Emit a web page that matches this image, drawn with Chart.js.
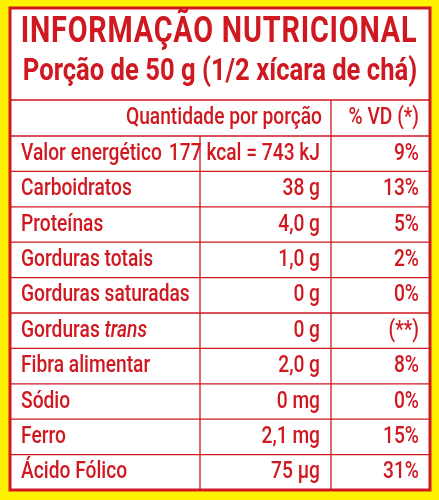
<!DOCTYPE html>
<html><head><meta charset="utf-8">
<script src="https://cdn.jsdelivr.net/npm/chart.js@4"></script>
<style>
html,body{margin:0;padding:0;background:#fff200;}
#wrap{width:439px;height:500px;}
</style></head>
<body><div id="wrap"><canvas id="tabela"></canvas></div>
<script>
const nutrientes = ['Valor energético','Carboidratos','Proteínas','Gorduras totais','Gorduras saturadas','Gorduras trans','Fibra alimentar','Sódio','Ferro','Ácido Fólico'];
const quantidades = ['177 kcal = 743 kJ','38 g','4,0 g','1,0 g','0 g','0 g','2,0 g','0 mg','2,1 mg','75 µg'];
const vd = ['9%','13%','5%','2%','0%','(**)','8%','0%','15%','31%'];
const titulo = 'INFORMAÇÃO NUTRICIONAL';
const subtitulo = 'Porção de 50 g (1/2 xícara de chá)';

const RED = '#cf1820';
const FONT = 'Roboto, "DejaVu Sans", sans-serif';
const SX = 0.8; // condensed look

// draw text squeezed horizontally, returns drawn width
function texto(ctx, s, x, y, align, font) {
  ctx.save();
  ctx.font = font;
  ctx.textAlign = align;
  ctx.translate(x, y);
  ctx.scale(SX, 1);
  ctx.fillText(s, 0, 0);
  const w = ctx.measureText(s).width * SX;
  ctx.restore();
  return w;
}

const tablePlugin = {
  id: 'tabela',
  afterDraw(chart) {
    const ctx = chart.ctx;
    const y = chart.scales.y;
    const a = chart.chartArea;
    const L = 10, R = 430, top = 100, c1 = 200, c2 = 331;
    ctx.save();
    ctx.fillStyle = '#fff';
    ctx.fillRect(L, 8, R - L, a.bottom - 8);
    ctx.strokeStyle = RED;
    ctx.lineWidth = 3;
    ctx.strokeRect(L, 8, R - L, a.bottom - 8);
    ctx.fillStyle = RED;
    ctx.textBaseline = 'middle';
    ctx.letterSpacing = '1px';
    texto(ctx, titulo, 219, 33, 'center', 'bold 36px ' + FONT);
    ctx.letterSpacing = '0px';
    texto(ctx, subtitulo, 220, 72, 'center', 'bold 32px ' + FONT);
    // grid
    ctx.lineWidth = 1.3;
    ctx.beginPath();
    ctx.moveTo(L, top); ctx.lineTo(R, top);
    ctx.moveTo(c2, top); ctx.lineTo(c2, a.bottom);
    ctx.moveTo(c1, a.top); ctx.lineTo(c1, a.bottom);
    const step = (a.bottom - a.top) / nutrientes.length;
    for (let i = 0; i < nutrientes.length; i++) {
      const yy = a.top + i * step;
      ctx.moveTo(L, yy); ctx.lineTo(R, yy);
    }
    ctx.stroke();
    const f = '500 24px ' + FONT;
    texto(ctx, 'Quantidade por porção', 322, (top + a.top) / 2, 'right', f);
    texto(ctx, '% VD (*)', 419, (top + a.top) / 2, 'right', f);
    nutrientes.forEach((n, i) => {
      const py = y.getPixelForValue(i);
      if (n.endsWith(' trans')) {
        const base = n.slice(0, -5);
        const w = texto(ctx, base, 21, py, 'left', f);
        texto(ctx, 'trans', 21 + w, py, 'left', 'italic 500 24px ' + FONT);
      } else {
        texto(ctx, n, 21, py, 'left', f);
      }
      texto(ctx, quantidades[i], 320, py, 'right', f);
      texto(ctx, vd[i], 419, py, 'right', f);
    });
    ctx.restore();
  }
};

new Chart(document.getElementById('tabela').getContext('2d'), {
  type: 'bar',
  data: {
    labels: nutrientes,
    datasets: [{ label: 'Quantidade', data: nutrientes.map(() => 0), backgroundColor: 'rgba(0,0,0,0)' }]
  },
  options: {
    indexAxis: 'y',
    responsive: true,
    maintainAspectRatio: false,
    animation: false,
    layout: { padding: { top: 136, bottom: 10, left: 10, right: 9 } },
    plugins: { legend: { display: false }, tooltip: { enabled: false } },
    scales: {
      y: { display: false, offset: true },
      x: { display: false, min: 0, max: 1 }
    }
  },
  plugins: [tablePlugin]
});
</script>
</body></html>
